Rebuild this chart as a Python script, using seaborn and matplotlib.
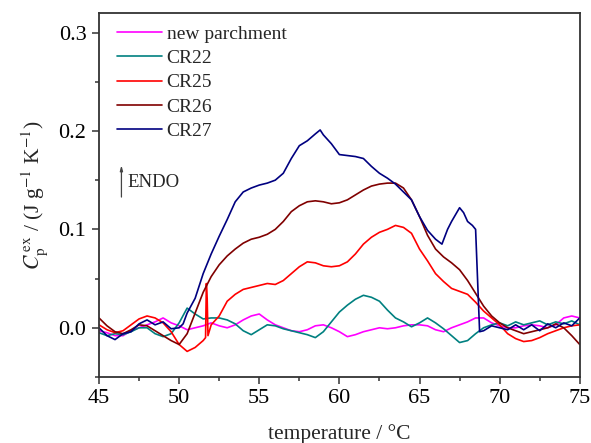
import numpy as np
import pandas as pd
import seaborn as sns
import matplotlib.pyplot as plt
from matplotlib.ticker import MultipleLocator

# values (excess heat capacity, J g-1 K-1)
temp = np.arange(45, 75.01, 0.5)

parchment = [-0.003, -0.005, -0.008, -0.008, -0.003, 0.0, 0.003, 0.006, 0.01, 0.005, 0.002,
             -0.002, 0.0, 0.002, 0.005, 0.002, 0.0, 0.003, 0.008, 0.012, 0.014,
             0.008, 0.003, 0.0, -0.003, -0.004, -0.002, 0.002, 0.003, 0.0, -0.004,
             -0.009, -0.007, -0.004, -0.002, 0.0, -0.001, 0.0, 0.002, 0.003, 0.003,
             0.002, -0.002, -0.004, 0.0, 0.003, 0.006, 0.01, 0.01, 0.005, 0.002,
             0.0, 0.0, 0.002, 0.003, 0.002, 0.0, 0.003, 0.01, 0.012, 0.01]

cr22 = [-0.005, -0.008, -0.006, -0.007, -0.004, 0.0, 0.0, -0.006, -0.009, -0.006, 0.005,
        0.02, 0.014, 0.009, 0.01, 0.01, 0.008, 0.004, -0.003, -0.007, -0.002,
        0.003, 0.002, -0.001, -0.003, -0.005, -0.007, -0.01, -0.004, 0.006, 0.016,
        0.023, 0.029, 0.033, 0.031, 0.027, 0.018, 0.01, 0.006, 0.001, 0.005,
        0.01, 0.005, -0.001, -0.008, -0.015, -0.013, -0.006, 0.0, 0.003, 0.005,
        0.002, 0.006, 0.003, 0.005, 0.007, 0.003, 0.006, 0.004, 0.007, 0.003]

cr25_t = [45, 45.5, 46, 46.5, 47, 47.5, 48, 48.5, 49, 49.5, 50, 50.5, 51, 51.5,
          51.65, 51.7, 51.75, 51.8,
          52, 52.5, 53, 53.5, 54, 54.5, 55, 55.5, 56, 56.5, 57, 57.5, 58, 58.5,
          59, 59.5, 60, 60.5, 61, 61.5, 62, 62.5, 63, 63.5, 64, 64.5, 65, 65.5,
          66, 66.5, 67, 67.5, 68, 68.5, 69, 69.5, 70, 70.5, 71, 71.5, 72, 72.5,
          73, 73.5, 74, 74.5, 75]
cr25 = [0.003, -0.002, -0.005, -0.003, 0.003, 0.009, 0.012, 0.01, 0.005, -0.004, -0.017,
        -0.024, -0.02, -0.013,
        -0.01, 0.045, 0.03, -0.008,
        0.003, 0.012, 0.027, 0.034, 0.039, 0.041, 0.043, 0.045, 0.044, 0.048, 0.055, 0.062,
        0.067, 0.066, 0.063, 0.062, 0.063, 0.067, 0.075, 0.085, 0.092, 0.097, 0.1, 0.104,
        0.102, 0.096, 0.08, 0.068, 0.055, 0.047, 0.04, 0.037, 0.034, 0.026, 0.017, 0.01,
        0.003, -0.006, -0.011, -0.014, -0.013, -0.01, -0.006, -0.003, 0.0, 0.002, 0.003]

cr26 = [0.01, 0.002, -0.004, -0.006, -0.002, 0.003, 0.002, -0.003, -0.008, -0.013, -0.017,
        -0.006, 0.015, 0.036, 0.052, 0.064, 0.073, 0.08, 0.086, 0.09, 0.092,
        0.095, 0.1, 0.108, 0.118, 0.124, 0.128, 0.129, 0.128, 0.126, 0.127,
        0.13, 0.135, 0.14, 0.144, 0.146, 0.147, 0.147, 0.142, 0.13, 0.113,
        0.094, 0.08, 0.072, 0.066, 0.059, 0.048, 0.035, 0.022, 0.012, 0.005,
        0.0, -0.003, -0.006, -0.004, -0.002, 0.0, 0.004, 0.0, -0.008, -0.017]

cr27_t = [45, 45.5, 46, 46.5, 47, 47.5, 48, 48.5, 49, 49.5, 50, 50.25, 50.5,
          51, 51.5, 52, 52.5, 53, 53.5, 54, 54.5, 55, 55.5, 56, 56.5, 57, 57.5, 58, 58.5,
          58.8, 59, 59.5, 60, 60.5, 61, 61.5, 62, 62.5, 63, 63.5, 64, 64.5, 65, 65.5, 66,
          66.4, 66.75, 67, 67.5, 67.75, 68, 68.3, 68.5, 68.75,
          69, 69.5, 70, 70.5, 71, 71.5, 72, 72.5, 73, 73.5, 74, 74.5, 75]
cr27 = [0.0, -0.008, -0.012, -0.006, -0.004, 0.004, 0.008, 0.003, 0.006, -0.001, 0.0, 0.004, 0.015,
        0.03, 0.055, 0.075, 0.093, 0.11, 0.128, 0.138, 0.142, 0.145, 0.147, 0.15, 0.157, 0.172,
        0.185, 0.19, 0.197,
        0.201, 0.196, 0.187, 0.176, 0.175, 0.174, 0.172, 0.164, 0.157, 0.152, 0.146, 0.138, 0.13,
        0.113, 0.099, 0.09,
        0.085, 0.1, 0.108, 0.122, 0.117, 0.108, 0.104, 0.10, -0.004,
        -0.003, 0.002, 0.0, -0.002, 0.003, -0.002, 0.003, -0.003, 0.004, 0.0, 0.005, 0.002, 0.01]

labels = ['new parchment', 'CR22', 'CR25', 'CR26', 'CR27']
colors = ['#ff00ff', '#008080', '#ff0000', '#800000', '#000080']

frames = [
    pd.DataFrame({'temperature': temp, 'cp': parchment, 'sample': labels[0]}),
    pd.DataFrame({'temperature': temp, 'cp': cr22, 'sample': labels[1]}),
    pd.DataFrame({'temperature': cr25_t, 'cp': cr25, 'sample': labels[2]}),
    pd.DataFrame({'temperature': temp, 'cp': cr26, 'sample': labels[3]}),
    pd.DataFrame({'temperature': cr27_t, 'cp': cr27, 'sample': labels[4]}),
]
df = pd.concat(frames, ignore_index=True)

sns.set_style('ticks')
plt.rcParams['font.family'] = ['Liberation Serif', 'DejaVu Serif']
plt.rcParams['mathtext.fontset'] = 'stix'

fig = plt.figure(figsize=(5.91, 4.43), dpi=100)
ax = fig.add_axes([0.1675, 0.149, 0.8135, 0.822])

sns.lineplot(data=df, x='temperature', y='cp', hue='sample', hue_order=labels,
             palette=dict(zip(labels, colors)), estimator=None, sort=False,
             lw=1.2, ax=ax)

ax.set_xlim(45, 75)
ax.set_ylim(-0.05, 0.32)
ax.xaxis.set_major_locator(MultipleLocator(5))
ax.xaxis.set_minor_locator(MultipleLocator(2.5))
ax.yaxis.set_major_locator(MultipleLocator(0.1))
ax.yaxis.set_minor_locator(MultipleLocator(0.05))
ax.yaxis.set_major_formatter(plt.FormatStrFormatter('%.1f'))
ax.tick_params(which='major', direction='out', length=5, width=1.1, labelsize=16, pad=4,
               colors='#333333', labelcolor='black')
ax.tick_params(which='minor', direction='out', length=3, width=1.1, colors='#333333')
for s in ax.spines.values():
    s.set_linewidth(1.3)
    s.set_color('#333333')

ax.set_xlabel('temperature / °C', fontsize=15.5, labelpad=11)
ax.set_ylabel(r'$C_{\mathrm{p}}^{\,\mathrm{ex}}$ / (J g$^{-1}$ K$^{-1}$)', fontsize=15.5, labelpad=6)

ax.annotate('', xy=(46.4, 0.168), xytext=(46.4, 0.13),
            arrowprops=dict(arrowstyle='-|>,head_length=0.3,head_width=0.08', color='#444444', lw=0.9))
ax.text(46.75, 0.148, 'ENDO', fontsize=13.5, va='center')

ax.legend(loc='upper left', frameon=False, fontsize=14, handlelength=2.3, handletextpad=0.26,
          labelspacing=0.34, borderaxespad=0, bbox_to_anchor=(0.021, 0.987))

fig.savefig('out.png', dpi=100)
